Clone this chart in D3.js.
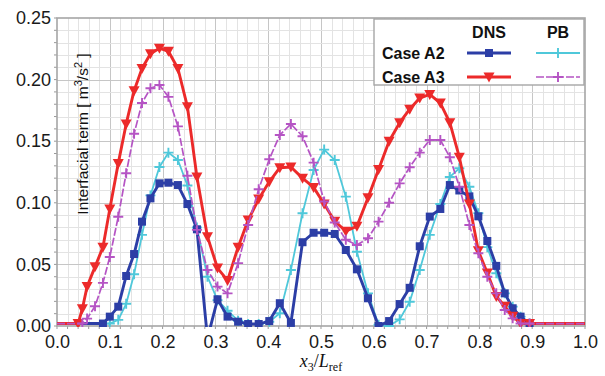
<!DOCTYPE html>
<html>
<head>
	<meta charset="utf-8">
	<title>Interfacial term</title>
	<style>
		html, body { margin:0; padding:0; background:#fff; }
		body { font-family: "Liberation Sans", Arial, Helvetica, sans-serif; }
		.grid_min { stroke:#e3e3e3; stroke-width:1px; shape-rendering:crispEdges; }
		.grid_maj { stroke:#c6c6c6; stroke-width:1px; shape-rendering:crispEdges; }
		.tick_lbl { font-size:18px; fill:#1a1a1a; }
		.leg_txt { font-size:16px; font-weight:bold; fill:#111; }
	</style>
	<script src="https://cdn.jsdelivr.net/npm/d3@7"></script>
</head>
<body>
<svg id="chart"></svg>
<script>

	//sample positions x3/Lref (shared by all series)
	var xs = [
		0, 0.040, 0.048, 0.057, 0.072, 0.087, 0.100, 0.116, 0.131, 0.146,
		0.161, 0.177, 0.194, 0.211, 0.229, 0.247, 0.265, 0.285, 0.304, 0.323,
		0.343, 0.362, 0.382, 0.402, 0.422, 0.443, 0.465, 0.486, 0.506, 0.526,
		0.547, 0.568, 0.589, 0.609, 0.629, 0.649, 0.668, 0.687, 0.706, 0.726,
		0.744, 0.762, 0.781, 0.798, 0.815, 0.832, 0.848, 0.863, 0.878, 0.895,
		1.0];

	//DNS case A2
	var dnsA2 = [
		0.002, null, null, null, null, 0.002, 0.0076, 0.0157, 0.0406, 0.0584,
		0.0847, 0.1036, 0.1158, 0.1163, 0.1144, 0.099, 0.0785, -0.010, 0.0217, 0.0076,
		0.0035, 0.0016, 0.0016, 0.004, 0.0185, 0.0025, 0.068, 0.0757, 0.0757, 0.0747,
		0.0617, 0.046, 0.0225, 0.000, 0.004, 0.0178, 0.031, 0.0647, 0.0888, 0.095,
		0.1144, 0.110, 0.1052, 0.089, 0.069, 0.0488, 0.0265, 0.0144, 0.0076, 0.002,
		0.002];

	//DNS case A3
	var dnsA3 = [
		0.002, 0.002, 0.014, 0.032, 0.048, 0.064, 0.095, 0.132, 0.164, 0.191,
		0.209, 0.221, 0.2255, 0.223, 0.209, 0.178, 0.121, 0.0725, 0.047, 0.037,
		0.064, 0.086, 0.103, 0.117, 0.1285, 0.129, 0.120, 0.1125, 0.099, 0.085,
		0.077, 0.081, 0.104, 0.127, 0.150, 0.165, 0.176, 0.185, 0.188, 0.181,
		0.165, 0.137, 0.099, 0.061, 0.043, 0.024, 0.016, 0.008, 0.002, 0.002,
		0.002];

	//PB case A2
	var pbA2 = [
		0.002, null, null, null, null, null, 0.002, 0.005, 0.018, 0.042,
		0.074, 0.106, 0.129, 0.1407, 0.1347, 0.114, 0.080, 0.040, 0.021, 0.0124,
		0.0043, 0.0016, 0.0016, 0.0035, 0.0103, 0.0455, 0.0915, 0.1266, 0.1432, 0.1347,
		0.105, 0.0603, 0.0265, 0.001, 0.000, 0.0054, 0.0197, 0.0455, 0.074, 0.099,
		0.121, 0.128, 0.113, 0.0915, 0.064, 0.0428, 0.0265, 0.0157, 0.0076, 0.002,
		0.002];

	//PB case A3
	var pbA3 = [
		0.002, null, 0.002, 0.006, 0.016, 0.035, 0.056, 0.0887, 0.124, 0.156,
		0.181, 0.193, 0.1956, 0.186, 0.162, 0.122, 0.078, 0.0455, 0.032, 0.0265,
		0.051, 0.082, 0.111, 0.1353, 0.155, 0.164, 0.154, 0.1326, 0.101, 0.084,
		0.070, 0.0657, 0.0712, 0.0847, 0.100, 0.1158, 0.1288, 0.1407, 0.151, 0.151,
		0.137, 0.113, 0.082, 0.059, 0.040, 0.0265, 0.013, 0.0062, 0.002, 0.002,
		0.002];

	var xTicks = [0, 0.1, 0.2, 0.3, 0.4, 0.5, 0.6, 0.7, 0.8, 0.9, 1.0];
	var yTicks = [0, 0.05, 0.10, 0.15, 0.20, 0.25];

	var legendCols = ["DNS", "PB"];
	var legendRows = ["Case A2", "Case A3"];

	//size
	var W = 605, H = 376,
		m = {l:57, r:20, t:18, b:50},
		svg = d3.select("#chart").attr("width", W).attr("height", H);

	svg.append("rect").attr("width", W).attr("height", H).attr("fill", "#fff");

	var x = d3.scaleLinear().domain([0, 1]).range([m.l, W - m.r]),
		y = d3.scaleLinear().domain([0, 0.25]).range([H - m.b, m.t]);

	//grid
	var gg = svg.append("g");
	gg.selectAll(".gx").data(d3.range(1, 50).map(function(i){ return i/50; })).enter()
		.append("line")
		.attr("class", function(d){ return Math.abs(d*10 - Math.round(d*10)) < 1e-6 ? "grid_maj" : "grid_min"; })
		.attr("x1", function(d){ return Math.round(x(d)) + 0.5; }).attr("x2", function(d){ return Math.round(x(d)) + 0.5; })
		.attr("y1", y(0)).attr("y2", y(0.25));
	gg.selectAll(".gy").data(d3.range(1, 25).map(function(i){ return i/100; })).enter()
		.append("line")
		.attr("class", function(d){ return Math.abs(d*20 - Math.round(d*20)) < 1e-6 ? "grid_maj" : "grid_min"; })
		.attr("x1", x(0)).attr("x2", x(1))
		.attr("y1", function(d){ return Math.round(y(d)) + 0.5; }).attr("y2", function(d){ return Math.round(y(d)) + 0.5; });

	//axes (labels only, frame drawn below)
	var ax = svg.append("g").attr("transform", "translate(0," + y(0) + ")")
		.call(d3.axisBottom(x).tickValues(xTicks).tickFormat(d3.format(".1f")).tickSize(0).tickPadding(9));
	var ay = svg.append("g").attr("transform", "translate(" + x(0) + ",0)")
		.call(d3.axisLeft(y).tickValues(yTicks).tickFormat(d3.format(".2f")).tickSize(0).tickPadding(6));
	[ax, ay].forEach(function(a){
		a.select(".domain").remove();
		a.selectAll("text").attr("class", "tick_lbl").attr("font-family", null).attr("font-size", null);
	});

	//small ticks on the axes
	svg.append("g").selectAll("line").data(d3.range(0, 51).map(function(i){ return i/50; })).enter()
		.append("line").attr("stroke", "#999")
		.attr("x1", function(d){ return x(d); }).attr("x2", function(d){ return x(d); })
		.attr("y1", y(0)).attr("y2", y(0) + 3);
	svg.append("g").selectAll("line").data(d3.range(0, 26).map(function(i){ return i/100; })).enter()
		.append("line").attr("stroke", "#999")
		.attr("x1", x(0) - 3).attr("x2", x(0))
		.attr("y1", function(d){ return y(d); }).attr("y2", function(d){ return y(d); });

	//frame
	svg.append("rect").attr("x", x(0)).attr("y", y(0.25)).attr("width", x(1) - x(0)).attr("height", y(0) - y(0.25))
		.attr("fill", "none").attr("stroke", "#a6a6a6").attr("stroke-width", 1.6);

	//clip
	svg.append("clipPath").attr("id", "clip").append("rect")
		.attr("x", x(0)).attr("y", y(0.25)).attr("width", x(1) - x(0)).attr("height", y(0) - y(0.25) + 1);

	//markers
	function marker(sel, type, color){
		if(type == "square"){
			sel.append("rect").attr("x", -4).attr("y", -4).attr("width", 8).attr("height", 8).attr("fill", color);
		} else if(type == "tri"){
			sel.append("path").attr("d", "M-5.5,-4.5L5.5,-4.5L0,5.5Z").attr("fill", color);
		} else {
			sel.append("path").attr("d", "M-5,0H5M0,-5V5").attr("stroke", color).attr("stroke-width", 1.9).attr("fill", "none");
		}
	}

	var series = [
		{vals:pbA2, color:"#4fc8da", width:1.8, dash:null, mk:"plus"},
		{vals:dnsA2, color:"#2c3ea6", width:2.9, dash:null, mk:"square"},
		{vals:dnsA3, color:"#ec2a2a", width:2.9, dash:null, mk:"tri"},
		{vals:pbA3, color:"#b554c4", width:1.7, dash:"8,2", mk:"plus"}
	];

	var line = d3.line().x(function(d){ return x(d[0]); }).y(function(d){ return y(d[1]); });
	var gp = svg.append("g").attr("clip-path", "url(#clip)");

	series.forEach(function(s){
		var pts = d3.zip(xs, s.vals).filter(function(d){ return d[1] != null; });
		gp.append("path").datum(pts).attr("d", line).attr("fill", "none")
			.attr("stroke", s.color).attr("stroke-width", s.width).attr("stroke-linejoin", "round")
			.attr("stroke-dasharray", s.dash);
		gp.append("g").selectAll("g").data(pts.filter(function(d){ return d[0] > 0 && d[0] < 1; })).enter()
			.append("g").attr("transform", function(d){ return "translate(" + x(d[0]) + "," + y(d[1]) + ")"; })
			.each(function(){ marker(d3.select(this), s.mk, s.color); });
	});

	//axis titles
	var ylab = svg.append("text").attr("transform", "translate(88,134) rotate(-90)")
		.attr("text-anchor", "middle").style("font-size", "15.5px").attr("fill", "#111");
	ylab.append("tspan").text("Interfacial term [ m");
	ylab.append("tspan").attr("dy", -6).style("font-size", "11px").text("3");
	ylab.append("tspan").attr("dy", 6).text("/s");
	ylab.append("tspan").attr("dy", -6).style("font-size", "11px").text("2");
	ylab.append("tspan").attr("dy", 6).text(" ]");

	var xlab = svg.append("text").attr("x", x(0.5)).attr("y", 367).attr("text-anchor", "middle")
		.style("font-family", "'Liberation Serif', 'DejaVu Serif', serif").style("font-size", "18px").style("font-style", "italic").attr("fill", "#111");
	xlab.append("tspan").text("x");
	xlab.append("tspan").attr("dy", 4).style("font-size", "12px").style("font-style", "normal").text("3");
	xlab.append("tspan").attr("dy", -4).style("font-style", "normal").text("/");
	xlab.append("tspan").text("L");
	xlab.append("tspan").attr("dy", 4).style("font-size", "12px").style("font-style", "normal").text("ref");

	//legend
	var lg = svg.append("g");
	lg.append("rect").attr("x", 374).attr("y", 19).attr("width", 210).attr("height", 66)
		.attr("fill", "#fff").attr("stroke", "#a6a6a6").attr("stroke-width", 1.4);
	var colX = [489, 558], rowY = [53, 77];
	legendCols.forEach(function(t, i){
		lg.append("text").attr("class", "leg_txt").attr("x", colX[i]).attr("y", 38).attr("text-anchor", "middle").text(t);
	});
	legendRows.forEach(function(t, i){
		lg.append("text").attr("class", "leg_txt").attr("x", 382).attr("y", rowY[i] + 6).text(t);
	});
	var legSeries = [[series[1], series[0]], [series[2], series[3]]];
	legSeries.forEach(function(row, r){
		row.forEach(function(s, c){
			var cx = colX[c];
			lg.append("line").attr("x1", cx - 22).attr("x2", cx + 22).attr("y1", rowY[r]).attr("y2", rowY[r])
				.attr("stroke", s.color).attr("stroke-width", s.width).attr("stroke-dasharray", s.dash);
			marker(lg.append("g").attr("transform", "translate(" + cx + "," + rowY[r] + ")"), s.mk, s.color);
		});
	});

</script>
</body>
</html>
